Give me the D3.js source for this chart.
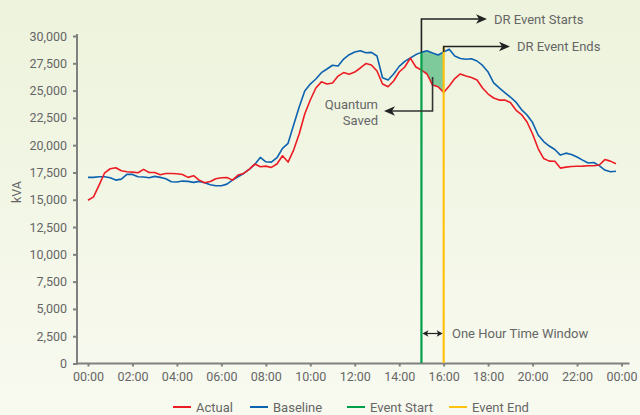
<!DOCTYPE html>
<html>
<head>
<meta charset="utf-8">
<script src="https://cdn.jsdelivr.net/npm/d3@7"></script>
<style>
  html, body { margin: 0; padding: 0; background: #f5f8ea; }
  svg { display: block; font-family: Roboto, "Noto Sans", sans-serif; }
</style>
</head>
<body>
<div id="chart"></div>
<script>
'use strict';

// 15 minute readings, 00:00 .. 23:45
var hours = d3.range(0, 24, 0.25);

var actual = [
  14950, 15270, 16340, 17470, 17840, 17930, 17650, 17560,
  17530, 17470, 17780, 17500, 17500, 17290, 17410, 17410,
  17380, 17320, 17050, 17200, 16800, 16550, 16680, 16920,
  17010, 17040, 16800, 17260, 17410, 17780, 18270, 18020,
  18080, 17960, 18270, 19030, 18450, 19550, 21020, 22850,
  24140, 25240, 25800, 25600, 25690, 26330, 26650, 26490,
  26700, 27070, 27480, 27340, 26790, 25600, 25350, 25880,
  26700, 27160, 27980, 27160, 26880, 26520, 25510, 25350,
  24820, 25420, 26100, 26520, 26330, 26200, 25970, 25240,
  24680, 24320, 24130, 24130, 23900, 23220, 22800, 22120,
  21020, 19690, 18770, 18540, 18520, 17900, 17990, 18040,
  18070, 18080, 18110, 18110, 18180, 18680, 18540, 18300
];

var baseline = [
  17050, 17050, 17110, 17110, 17010, 16800, 16890, 17320,
  17320, 17110, 17080, 17010, 17140, 17050, 16920, 16650,
  16620, 16710, 16680, 16590, 16680, 16550, 16370, 16280,
  16280, 16430, 16800, 17110, 17410, 17780, 18240, 18880,
  18480, 18450, 18850, 19710, 20170, 21840, 23500, 24960,
  25600, 26060, 26640, 26980, 27320, 27250, 27890, 28290,
  28530, 28650, 28470, 28500, 28170, 26180, 25970, 26520,
  27220, 27680, 27980, 28300, 28500, 28650, 28440, 28260,
  28530, 28780, 28160, 27940, 27870, 27910, 27710, 27300,
  26700, 25700, 25240, 24820, 24410, 23950, 23260, 22760,
  22070, 20930, 20330, 19920, 19600, 19090, 19270, 19140,
  18910, 18630, 18360, 18410, 18130, 17720, 17560, 17610
];

var eventStart = 15, eventEnd = 16;

var xTicks = [0, 2, 4, 6, 8, 10, 12, 14, 16, 18, 20, 22, 24];
var xTickLabels = ['00:00', '02:00', '04:00', '06:00', '08:00', '10:00', '12:00',
  '14:00', '16:00', '18:00', '20:00', '22:00', '00:00'];
var yTicks = [0, 2500, 5000, 7500, 10000, 12500, 15000, 17500, 20000, 22500, 25000, 27500, 30000];

var legendNames = ['Actual', 'Baseline', 'Event Start', 'Event End'];

var RED = '#ec1c24', BLUE = '#0d62b0', GREEN = '#00a04a', YELLOW = '#ffc20e',
  SHADE = '#7fca9b', INK = '#222222', TEXT = '#666666', AXIS = '#808080';

var width = 640, height = 415;

var svg = d3.select('#chart').append('svg')
  .attr('width', width)
  .attr('height', height);

// background gradient
var defs = svg.append('defs');
var grad = defs.append('linearGradient')
  .attr('id', 'bg').attr('x1', 0).attr('y1', 0).attr('x2', 0).attr('y2', 1);
grad.append('stop').attr('offset', '0%').attr('stop-color', '#edf3dc');
grad.append('stop').attr('offset', '100%').attr('stop-color', '#f8faf0');
svg.append('rect').attr('width', width).attr('height', height).attr('fill', 'url(#bg)');

var x = d3.scaleLinear().domain([0, 24]).range([88, 621.5]);
var y = d3.scaleLinear().domain([0, 30000]).range([363.5, 36]);

var pts = hours.map(function(h, i) {
  return {h: h, a: actual[i], b: baseline[i]};
});

// quantum saved area between baseline and actual during the event
var inEvent = pts.filter(function(d) { return d.h >= eventStart && d.h <= eventEnd; });
svg.append('path')
  .datum(inEvent)
  .attr('fill', SHADE)
  .attr('d', d3.area()
    .x(function(d) { return x(d.h); })
    .y0(function(d) { return y(d.a); })
    .y1(function(d) { return y(d.b); }));

// axes
var yAxis = svg.append('g')
  .attr('transform', 'translate(77,0)')
  .call(d3.axisLeft(y).tickValues(yTicks).tickFormat(d3.format(',')).tickSize(4).tickPadding(6));
var xAxis = svg.append('g')
  .attr('transform', 'translate(0,363.5)')
  .call(d3.axisBottom(x).tickValues(xTicks)
    .tickFormat(function(d, i) { return xTickLabels[i]; })
    .tickSize(3).tickPadding(6));

[yAxis, xAxis].forEach(function(g) {
  g.select('.domain').remove();
  g.selectAll('line').attr('stroke', AXIS).attr('stroke-width', 2);
  g.selectAll('text').attr('fill', TEXT).style('font-size', '12.5px').style('font-family', 'Roboto, sans-serif');
});

svg.append('line').attr('x1', 77).attr('x2', 77).attr('y1', 34).attr('y2', 364.5)
  .attr('stroke', AXIS).attr('stroke-width', 2);
svg.append('line').attr('x1', 76).attr('x2', 629.5).attr('y1', 363.5).attr('y2', 363.5)
  .attr('stroke', AXIS).attr('stroke-width', 2);

svg.append('text')
  .attr('transform', 'translate(21,192) rotate(-90)')
  .attr('text-anchor', 'middle')
  .attr('fill', TEXT)
  .style('font-size', '12.5px')
  .text('kVA');

// series lines
function seriesLine(key) {
  return d3.line()
    .x(function(d) { return x(d.h); })
    .y(function(d) { return y(d[key]); });
}

svg.append('path').datum(pts)
  .attr('fill', 'none').attr('stroke', BLUE).attr('stroke-width', 1.6)
  .attr('stroke-linejoin', 'round').attr('d', seriesLine('b'));
svg.append('path').datum(pts)
  .attr('fill', 'none').attr('stroke', RED).attr('stroke-width', 1.6)
  .attr('stroke-linejoin', 'round').attr('d', seriesLine('a'));

// event markers
var xs = x(eventStart), xe = x(eventEnd);
var startTop = y(baseline[hours.indexOf(eventStart)]);
svg.append('line').attr('x1', xs).attr('x2', xs).attr('y1', startTop).attr('y2', 363)
  .attr('stroke', GREEN).attr('stroke-width', 2.2);
svg.append('line').attr('x1', xe).attr('x2', xe).attr('y1', 47).attr('y2', 363)
  .attr('stroke', YELLOW).attr('stroke-width', 2.2);

// annotations
function arrowRight(tx, ty) {
  return 'M' + tx + ',' + ty + 'L' + (tx - 11) + ',' + (ty - 4.8) + 'L' + (tx - 8) + ',' + ty +
    'L' + (tx - 11) + ',' + (ty + 4.8) + 'Z';
}
function arrowLeft(tx, ty) {
  return 'M' + tx + ',' + ty + 'L' + (tx + 11) + ',' + (ty - 4.8) + 'L' + (tx + 8) + ',' + ty +
    'L' + (tx + 11) + ',' + (ty + 4.8) + 'Z';
}

var ann = svg.append('g');

// DR Event Starts
ann.append('path')
  .attr('d', 'M' + xs + ',' + startTop + 'V19H480')
  .attr('fill', 'none').attr('stroke', INK).attr('stroke-width', 1.6);
ann.append('path').attr('d', arrowRight(487, 19)).attr('fill', INK);
ann.append('text').attr('x', 494).attr('y', 19).attr('dy', '0.35em')
  .attr('fill', TEXT).style('font-size', '13px').text('DR Event Starts');

// DR Event Ends
ann.append('path')
  .attr('d', 'M' + xe + ',52V46.5H503')
  .attr('fill', 'none').attr('stroke', INK).attr('stroke-width', 1.6);
ann.append('path').attr('d', arrowRight(510, 46.5)).attr('fill', INK);
ann.append('text').attr('x', 517).attr('y', 46.5).attr('dy', '0.35em')
  .attr('fill', TEXT).style('font-size', '13px').text('DR Event Ends');

// Quantum Saved
var qx = (xs + xe) / 2;
ann.append('path')
  .attr('d', 'M' + qx + ',77V111H391')
  .attr('fill', 'none').attr('stroke', '#333').attr('stroke-width', 1.6);
ann.append('path').attr('d', arrowLeft(384, 111)).attr('fill', INK);
ann.append('text').attr('x', 378).attr('y', 104).attr('dy', '0.35em')
  .attr('text-anchor', 'end').attr('fill', TEXT).style('font-size', '13px').text('Quantum');
ann.append('text').attr('x', 378).attr('y', 120).attr('dy', '0.35em')
  .attr('text-anchor', 'end').attr('fill', TEXT).style('font-size', '13px').text('Saved');

// One hour window
var wy = 333.5;
ann.append('line').attr('x1', xs + 3).attr('x2', xe - 3).attr('y1', wy).attr('y2', wy)
  .attr('stroke', INK).attr('stroke-width', 1.2);
ann.append('path').attr('d', 'M' + (xs + 1) + ',' + wy + 'l6,-3.2l-1.5,3.2l1.5,3.2Z').attr('fill', INK);
ann.append('path').attr('d', 'M' + (xe - 1) + ',' + wy + 'l-6,-3.2l1.5,3.2l-1.5,3.2Z').attr('fill', INK);
ann.append('text').attr('x', 452).attr('y', wy).attr('dy', '0.35em')
  .attr('fill', TEXT).style('font-size', '13px').text('One Hour Time Window');

// legend
var legendColors = [RED, BLUE, GREEN, YELLOW];
var legendX = [173, 250, 347, 449];
var legend = svg.append('g').attr('transform', 'translate(0,407)');
legendNames.forEach(function(name, i) {
  legend.append('line')
    .attr('x1', legendX[i]).attr('x2', legendX[i] + 18)
    .attr('y1', 0).attr('y2', 0)
    .attr('stroke', legendColors[i]).attr('stroke-width', 2);
  legend.append('text')
    .attr('x', legendX[i] + 23).attr('y', 0).attr('dy', '0.35em')
    .attr('fill', TEXT).style('font-size', '13px').text(name);
});
</script>
</body>
</html>
